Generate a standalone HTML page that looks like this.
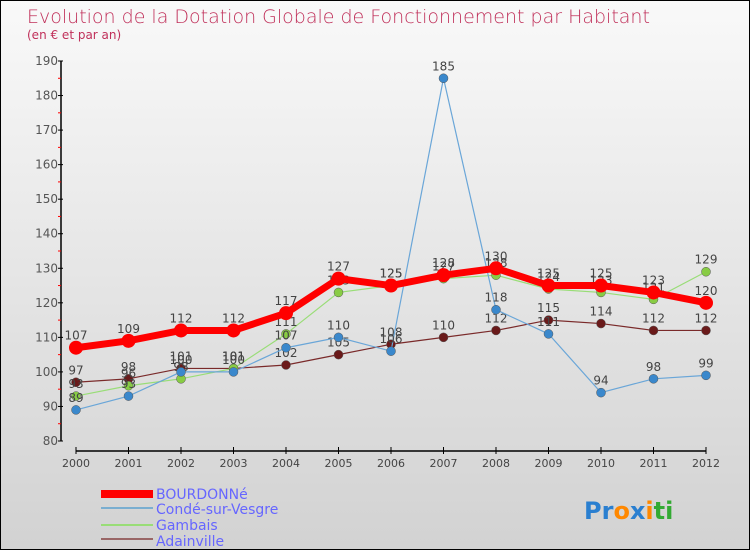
<!DOCTYPE html>
<html><head><meta charset="utf-8"><style>
html,body{margin:0;padding:0}
body{width:750px;height:550px;overflow:hidden;font-family:"DejaVu Sans","Liberation Sans",sans-serif}
#wrap{position:relative;width:748px;height:548px;border:1px solid #000;background:linear-gradient(#f9f9f9,#d2d2d2)}
.t{font-family:"DejaVu Sans","Liberation Sans",sans-serif}
</style></head><body>
<div id="wrap">
<svg id="c" width="748" height="548">
<text x="26" y="22" font-size="19" fill="#c0305a" font-weight="300">Evolution de la Dotation Globale de Fonctionnement par Habitant</text>
<text x="26" y="38" font-size="12" fill="#c0305a">(en € et par an)</text>
<g id="axes"></g><g id="series"></g>
<g>
<rect x="100" y="489" width="52" height="8" fill="#f00"/>
<text x="155" y="498" font-size="14" fill="#6666ff">BOURDONNé</text>
<rect x="100" y="506" width="52" height="2" fill="#7aaed0"/>
<text x="155" y="513" font-size="14" fill="#6666ff">Condé-sur-Vesgre</text>
<rect x="100" y="523" width="52" height="2" fill="#99dd77"/>
<text x="155" y="529" font-size="14" fill="#6666ff">Gambais</text>
<rect x="100" y="537" width="52" height="2" fill="#996666"/>
<text x="155" y="545" font-size="14" fill="#6666ff">Adainville</text>
</g>
<text x="583" y="518" font-size="24" font-weight="bold"><tspan fill="#2a7fd0">Pr</tspan><tspan fill="#ff8800">o</tspan><tspan fill="#2a7fd0">x</tspan><tspan fill="#ff8800">i</tspan><tspan fill="#33aa33">ti</tspan></text>
</svg>
</div>
<script>
const years=[2000,2001,2002,2003,2004,2005,2006,2007,2008,2009,2010,2011,2012];
const bourdonne=[107,109,112,112,117,127,125,128,130,125,125,123,120];
const conde=[89,93,100,100,107,110,106,185,118,111,94,98,99];
const gambais=[93,96,98,101,111,123,125,127,128,124,123,121,129];
const adainville=[97,98,101,101,102,105,108,110,112,115,114,112,112];
const yTicks=[80,90,100,110,120,130,140,150,160,170,180,190];
const NS="http://www.w3.org/2000/svg";
const X=i=>75+i*52.5, Y=v=>440-(v-80)*(380/110);
function mk(tag,attrs,parent){const e=document.createElementNS(NS,tag);for(const k in attrs)e.setAttribute(k,attrs[k]);parent.appendChild(e);return e;}
const ax=document.getElementById('axes');
let yl=mk('line',{x1:60,y1:Y(190),x2:60,y2:Y(80),stroke:'#000','stroke-width':1.5},ax);


yTicks.forEach(v=>{
 mk('line',{x1:57,y1:Y(v),x2:62,y2:Y(v),stroke:'#000'},ax);
 if(v<190){const m=mk('line',{x1:57,y1:Y(v+5),x2:60,y2:Y(v+5),stroke:'#f00'},ax);}
 const t=mk('text',{x:57,y:Y(v)+4,'font-size':12,'text-anchor':'end',fill:'#555'},ax);
 t.textContent=v;
 
 
});
let xl=mk('line',{x1:X(0),y1:450,x2:X(12),y2:450,stroke:'#000','stroke-width':1.5},ax);


years.forEach((yr,i)=>{
 mk('line',{x1:X(i),y1:446,x2:X(i),y2:453,stroke:'#000'},ax);
 const t=mk('text',{x:X(i),y:466,'font-size':11,'text-anchor':'middle',fill:'#444'},ax);
 t.textContent=yr;
 
 
});
const sg=document.getElementById('series');
const defs=[
 {name:'adainville',d:adainville,c:'#7a2a2a',fill:'#6a1a1a',w:1.2,r:4.5},
 {name:'gambais',d:gambais,c:'#99dd77',fill:'#88cc44',w:1.2,r:4.5},
 {name:'conde',d:conde,c:'#6aa6d8',fill:'#3a88cc',w:1.2,r:4.5},
 {name:'bourdonne',d:bourdonne,c:'#ff0000',fill:'#ff0000',w:7,r:7}
];
defs.forEach(s=>{
 const g=mk('g',{},sg);
 
 
 const p=mk('polyline',{points:s.d.map((v,i)=>X(i)+','+Y(v)).join(' '),fill:'none',stroke:s.c,'stroke-width':s.w},g);
 
 
 s.d.forEach((v,i)=>{
  const c=mk('circle',{cx:X(i),cy:Y(v),r:s.r,fill:s.fill,stroke:s.name==='bourdonne'?'none':'#555','stroke-width':0.5},g);
  
  
  const t=mk('text',{x:X(i),y:Y(v)-8,'font-size':12,'text-anchor':'middle',fill:'#444'},g);
  t.textContent=v;
  
  
 });
});
</script>
</body></html>
